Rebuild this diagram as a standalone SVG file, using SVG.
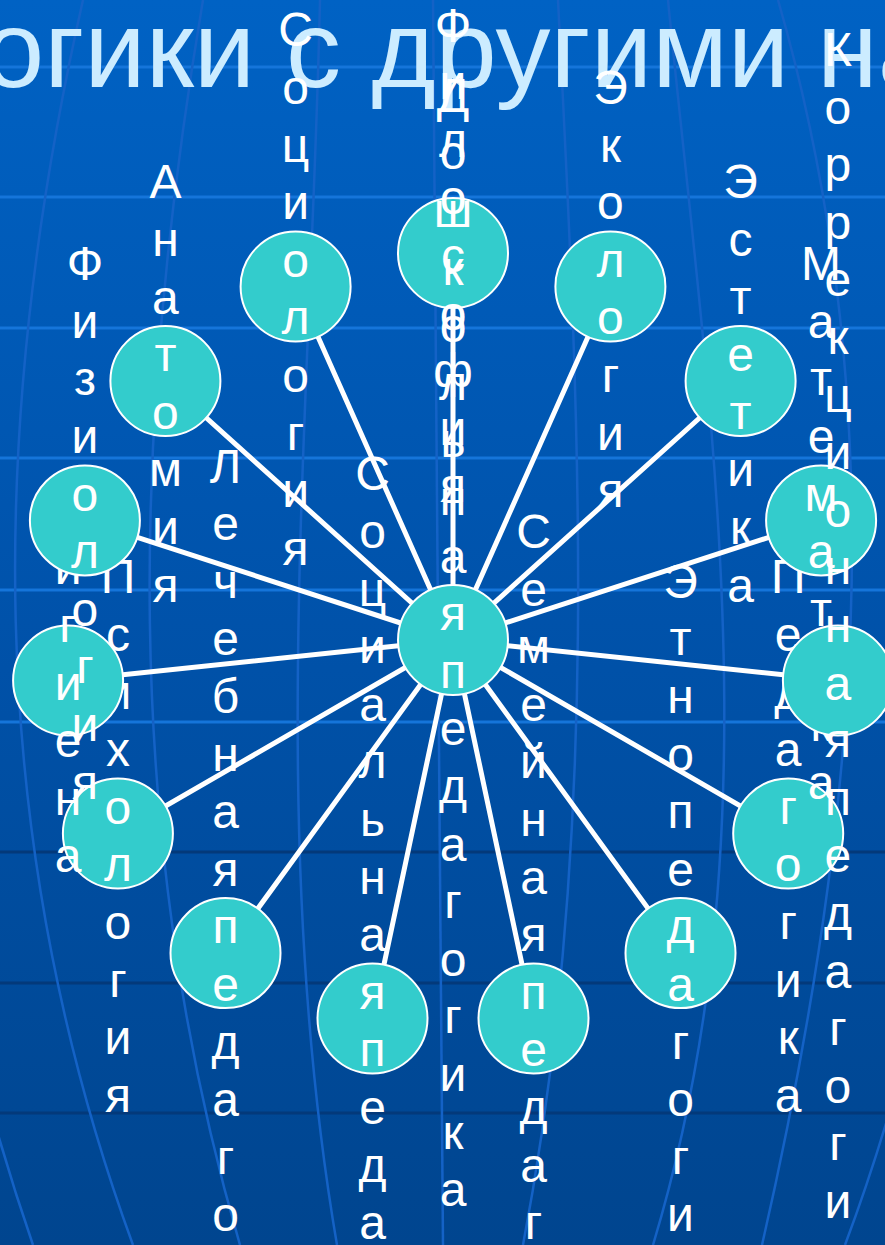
<svg xmlns="http://www.w3.org/2000/svg" width="885" height="1245" viewBox="0 0 885 1245">
<defs>
<linearGradient id="bg" x1="0" y1="0" x2="0" y2="1">
<stop offset="0" stop-color="#0062C4"/>
<stop offset="0.5" stop-color="#0052AA"/>
<stop offset="1" stop-color="#00458F"/>
</linearGradient>
<style>
.hl{stroke:#1575DA;stroke-width:3;fill:none}
.hd{stroke:#03397A;stroke-width:3;fill:none}
.mer{stroke:#1462C6;stroke-width:2.5;fill:none}
.sp{stroke:#FFFFFF;stroke-width:5;stroke-linecap:round}
.c{fill:#33CCCC;stroke:#FFFFFF;stroke-width:2}
.t{font-family:"Liberation Sans",Arial,sans-serif;font-size:48px;fill:#FFFFFF;text-anchor:middle}
.title{font-family:"Liberation Sans",Arial,sans-serif;font-size:110px;fill:#CCECFF}
</style>
</defs>
<rect x="0" y="0" width="885" height="1245" fill="url(#bg)"/>
<g id="grid">
<line class="hl" x1="0" y1="67" x2="885" y2="67"/>
<line class="hl" x1="0" y1="197" x2="885" y2="197"/>
<line class="hl" x1="0" y1="328" x2="885" y2="328"/>
<line class="hl" x1="0" y1="458" x2="885" y2="458"/>
<line class="hl" x1="0" y1="590" x2="885" y2="590"/>
<line class="hl" x1="0" y1="722" x2="885" y2="722"/>
<line class="hd" x1="0" y1="852" x2="885" y2="852"/>
<line class="hd" x1="0" y1="983" x2="885" y2="983"/>
<line class="hd" x1="0" y1="1113" x2="885" y2="1113"/>
<path class="mer" d="M-80,0 C-120,415 -110,830 33,1245"/>
<path class="mer" d="M83,0 C-11,415 -19,830 133,1245"/>
<path class="mer" d="M203,0 C133,415 119,830 240,1245"/>
<path class="mer" d="M320,0 C311,415 266,830 337,1245"/>
<path class="mer" d="M433,0 C438,415 441,830 443,1245"/>
<path class="mer" d="M558,0 C579,415 602,830 523,1245"/>
<path class="mer" d="M668,0 C709,415 778,830 653,1245"/>
<path class="mer" d="M778,0 C898,415 857,830 762,1245"/>
<path class="mer" d="M960,0 C1000,415 1000,830 845,1245"/>
</g>
<text class="title" x="-17" y="87">огики с другими <tspan x="817">на</tspan></text>
<g id="connectors">
<line class="sp" x1="453" y1="640" x2="453" y2="253"/>
<line class="sp" x1="453" y1="640" x2="610.4" y2="286.5"/>
<line class="sp" x1="453" y1="640" x2="740.6" y2="381"/>
<line class="sp" x1="453" y1="640" x2="821.1" y2="520.4"/>
<line class="sp" x1="453" y1="640" x2="837.9" y2="680.5"/>
<line class="sp" x1="453" y1="640" x2="788.2" y2="833.5"/>
<line class="sp" x1="453" y1="640" x2="680.5" y2="953.1"/>
<line class="sp" x1="453" y1="640" x2="533.5" y2="1018.5"/>
<line class="sp" x1="453" y1="640" x2="372.5" y2="1018.5"/>
<line class="sp" x1="453" y1="640" x2="225.5" y2="953.1"/>
<line class="sp" x1="453" y1="640" x2="117.9" y2="833.5"/>
<line class="sp" x1="453" y1="640" x2="68.1" y2="680.5"/>
<line class="sp" x1="453" y1="640" x2="84.9" y2="520.4"/>
<line class="sp" x1="453" y1="640" x2="165.4" y2="381"/>
<line class="sp" x1="453" y1="640" x2="295.6" y2="286.5"/>
</g>
<g id="pedagogika">
<circle class="c" cx="788.2" cy="833.5" r="55"/>
<text class="t"><tspan x="788.2" y="593.3">П</tspan><tspan x="788.2" y="650.9">е</tspan><tspan x="788.2" y="708.5">д</tspan><tspan x="788.2" y="766.1">а</tspan><tspan x="788.2" y="823.7">г</tspan><tspan x="788.2" y="881.3">о</tspan><tspan x="788.2" y="938.9">г</tspan><tspan x="788.2" y="996.5">и</tspan><tspan x="788.2" y="1054.1">к</tspan><tspan x="788.2" y="1111.7">а</tspan></text>
</g>
<g id="etnopedagogika">
<circle class="c" cx="680.5" cy="953.1" r="55"/>
<text class="t"><tspan x="680.5" y="597.7">Э</tspan><tspan x="680.5" y="655.3">т</tspan><tspan x="680.5" y="712.9">н</tspan><tspan x="680.5" y="770.5">о</tspan><tspan x="680.5" y="828.1">п</tspan><tspan x="680.5" y="885.7">е</tspan><tspan x="680.5" y="943.3">д</tspan><tspan x="680.5" y="1000.9">а</tspan><tspan x="680.5" y="1058.5">г</tspan><tspan x="680.5" y="1116.1">о</tspan><tspan x="680.5" y="1173.7">г</tspan><tspan x="680.5" y="1231.3">и</tspan></text>
</g>
<g id="semeynaya">
<circle class="c" cx="533.5" cy="1018.5" r="55"/>
<text class="t"><tspan x="533.5" y="547.9">С</tspan><tspan x="533.5" y="605.5">е</tspan><tspan x="533.5" y="663.1">м</tspan><tspan x="533.5" y="720.7">е</tspan><tspan x="533.5" y="778.3">й</tspan><tspan x="533.5" y="835.9">н</tspan><tspan x="533.5" y="893.5">а</tspan><tspan x="533.5" y="951.1">я</tspan><tspan x="533.5" y="1008.7">п</tspan><tspan x="533.5" y="1066.3">е</tspan><tspan x="533.5" y="1123.9">д</tspan><tspan x="533.5" y="1181.5">а</tspan><tspan x="533.5" y="1239.1">г</tspan></text>
</g>
<g id="socialnaya">
<circle class="c" cx="372.5" cy="1018.5" r="55"/>
<text class="t"><tspan x="372.5" y="490.3">С</tspan><tspan x="372.5" y="547.9">о</tspan><tspan x="372.5" y="605.5">ц</tspan><tspan x="372.5" y="663.1">и</tspan><tspan x="372.5" y="720.7">а</tspan><tspan x="372.5" y="778.3">л</tspan><tspan x="372.5" y="835.9">ь</tspan><tspan x="372.5" y="893.5">н</tspan><tspan x="372.5" y="951.1">а</tspan><tspan x="372.5" y="1008.7">я</tspan><tspan x="372.5" y="1066.3">п</tspan><tspan x="372.5" y="1123.9">е</tspan><tspan x="372.5" y="1181.5">д</tspan><tspan x="372.5" y="1239.1">а</tspan></text>
</g>
<g id="lechebnaya">
<circle class="c" cx="225.5" cy="953.1" r="55"/>
<text class="t"><tspan x="225.5" y="482.5">Л</tspan><tspan x="225.5" y="540.1">е</tspan><tspan x="225.5" y="597.7">ч</tspan><tspan x="225.5" y="655.3">е</tspan><tspan x="225.5" y="712.9">б</tspan><tspan x="225.5" y="770.5">н</tspan><tspan x="225.5" y="828.1">а</tspan><tspan x="225.5" y="885.7">я</tspan><tspan x="225.5" y="943.3">п</tspan><tspan x="225.5" y="1000.9">е</tspan><tspan x="225.5" y="1058.5">д</tspan><tspan x="225.5" y="1116.1">а</tspan><tspan x="225.5" y="1173.7">г</tspan><tspan x="225.5" y="1231.3">о</tspan></text>
</g>
<g id="psihologiya">
<circle class="c" cx="117.9" cy="833.5" r="55"/>
<text class="t"><tspan x="117.9" y="593.3">П</tspan><tspan x="117.9" y="650.9">с</tspan><tspan x="117.9" y="708.5">и</tspan><tspan x="117.9" y="766.1">х</tspan><tspan x="117.9" y="823.7">о</tspan><tspan x="117.9" y="881.3">л</tspan><tspan x="117.9" y="938.9">о</tspan><tspan x="117.9" y="996.5">г</tspan><tspan x="117.9" y="1054.1">и</tspan><tspan x="117.9" y="1111.7">я</tspan></text>
</g>
<g id="gigiena">
<circle class="c" cx="68.1" cy="680.5" r="55"/>
<text class="t"><tspan x="68.1" y="526.7">Г</tspan><tspan x="68.1" y="584.3">и</tspan><tspan x="68.1" y="641.9">г</tspan><tspan x="68.1" y="699.5">и</tspan><tspan x="68.1" y="757.1">е</tspan><tspan x="68.1" y="814.7">н</tspan><tspan x="68.1" y="872.3">а</tspan></text>
</g>
<g id="fiziologiya">
<circle class="c" cx="84.9" cy="520.4" r="55"/>
<text class="t"><tspan x="84.9" y="280.2">Ф</tspan><tspan x="84.9" y="337.8">и</tspan><tspan x="84.9" y="395.4">з</tspan><tspan x="84.9" y="453">и</tspan><tspan x="84.9" y="510.6">о</tspan><tspan x="84.9" y="568.2">л</tspan><tspan x="84.9" y="625.8">о</tspan><tspan x="84.9" y="683.4">г</tspan><tspan x="84.9" y="741">и</tspan><tspan x="84.9" y="798.6">я</tspan></text>
</g>
<g id="anatomiya">
<circle class="c" cx="165.4" cy="381" r="55"/>
<text class="t"><tspan x="165.4" y="198.4">А</tspan><tspan x="165.4" y="256">н</tspan><tspan x="165.4" y="313.6">а</tspan><tspan x="165.4" y="371.2">т</tspan><tspan x="165.4" y="428.8">о</tspan><tspan x="165.4" y="486.4">м</tspan><tspan x="165.4" y="544">и</tspan><tspan x="165.4" y="601.6">я</tspan></text>
</g>
<g id="sociologiya">
<circle class="c" cx="295.6" cy="286.5" r="55"/>
<text class="t"><tspan x="295.6" y="46.3">С</tspan><tspan x="295.6" y="103.9">о</tspan><tspan x="295.6" y="161.5">ц</tspan><tspan x="295.6" y="219.1">и</tspan><tspan x="295.6" y="276.7">о</tspan><tspan x="295.6" y="334.3">л</tspan><tspan x="295.6" y="391.9">о</tspan><tspan x="295.6" y="449.5">г</tspan><tspan x="295.6" y="507.1">и</tspan><tspan x="295.6" y="564.7">я</tspan></text>
</g>
<g id="filosofiya">
<circle class="c" cx="453" cy="253" r="55"/>
<text class="t"><tspan x="453" y="41.6">Ф</tspan><tspan x="453" y="99.2">и</tspan><tspan x="453" y="156.8">л</tspan><tspan x="453" y="214.4">о</tspan><tspan x="453" y="272">с</tspan><tspan x="453" y="329.6">о</tspan><tspan x="453" y="387.2">ф</tspan><tspan x="453" y="444.8">и</tspan><tspan x="453" y="502.4">я</tspan></text>
</g>
<g id="ekologiya">
<circle class="c" cx="610.4" cy="286.5" r="55"/>
<text class="t"><tspan x="610.4" y="103.9">Э</tspan><tspan x="610.4" y="161.5">к</tspan><tspan x="610.4" y="219.1">о</tspan><tspan x="610.4" y="276.7">л</tspan><tspan x="610.4" y="334.3">о</tspan><tspan x="610.4" y="391.9">г</tspan><tspan x="610.4" y="449.5">и</tspan><tspan x="610.4" y="507.1">я</tspan></text>
</g>
<g id="estetika">
<circle class="c" cx="740.6" cy="381" r="55"/>
<text class="t"><tspan x="740.6" y="198.4">Э</tspan><tspan x="740.6" y="256">с</tspan><tspan x="740.6" y="313.6">т</tspan><tspan x="740.6" y="371.2">е</tspan><tspan x="740.6" y="428.8">т</tspan><tspan x="740.6" y="486.4">и</tspan><tspan x="740.6" y="544">к</tspan><tspan x="740.6" y="601.6">а</tspan></text>
</g>
<g id="matematika">
<circle class="c" cx="821.1" cy="520.4" r="55"/>
<text class="t"><tspan x="821.1" y="280.2">М</tspan><tspan x="821.1" y="337.8">а</tspan><tspan x="821.1" y="395.4">т</tspan><tspan x="821.1" y="453">е</tspan><tspan x="821.1" y="510.6">м</tspan><tspan x="821.1" y="568.2">а</tspan><tspan x="821.1" y="625.8">т</tspan><tspan x="821.1" y="683.4">и</tspan><tspan x="821.1" y="741">к</tspan><tspan x="821.1" y="798.6">а</tspan></text>
</g>
<g id="korrekcionnaya">
<circle class="c" cx="837.9" cy="680.5" r="55"/>
<text class="t"><tspan x="837.9" y="65.9">К</tspan><tspan x="837.9" y="123.5">о</tspan><tspan x="837.9" y="181.1">р</tspan><tspan x="837.9" y="238.7">р</tspan><tspan x="837.9" y="296.3">е</tspan><tspan x="837.9" y="353.9">к</tspan><tspan x="837.9" y="411.5">ц</tspan><tspan x="837.9" y="469.1">и</tspan><tspan x="837.9" y="526.7">о</tspan><tspan x="837.9" y="584.3">н</tspan><tspan x="837.9" y="641.9">н</tspan><tspan x="837.9" y="699.5">а</tspan><tspan x="837.9" y="757.1">я</tspan><tspan x="837.9" y="814.7">п</tspan><tspan x="837.9" y="872.3">е</tspan><tspan x="837.9" y="929.9">д</tspan><tspan x="837.9" y="987.5">а</tspan><tspan x="837.9" y="1045.1">г</tspan><tspan x="837.9" y="1102.7">о</tspan><tspan x="837.9" y="1160.3">г</tspan><tspan x="837.9" y="1217.9">и</tspan></text>
</g>
<g id="center">
<circle class="c" cx="453" cy="640" r="55"/>
<text class="t"><tspan x="453" y="111.8">Д</tspan><tspan x="453" y="169.4">о</tspan><tspan x="453" y="227">ш</tspan><tspan x="453" y="284.6">к</tspan><tspan x="453" y="342.2">о</tspan><tspan x="453" y="399.8">л</tspan><tspan x="453" y="457.4">ь</tspan><tspan x="453" y="515">н</tspan><tspan x="453" y="572.6">а</tspan><tspan x="453" y="630.2">я</tspan><tspan x="453" y="687.8">п</tspan><tspan x="453" y="745.4">е</tspan><tspan x="453" y="803">д</tspan><tspan x="453" y="860.6">а</tspan><tspan x="453" y="918.2">г</tspan><tspan x="453" y="975.8">о</tspan><tspan x="453" y="1033.4">г</tspan><tspan x="453" y="1091">и</tspan><tspan x="453" y="1148.6">к</tspan><tspan x="453" y="1206.2">а</tspan></text>
</g>
</svg>
